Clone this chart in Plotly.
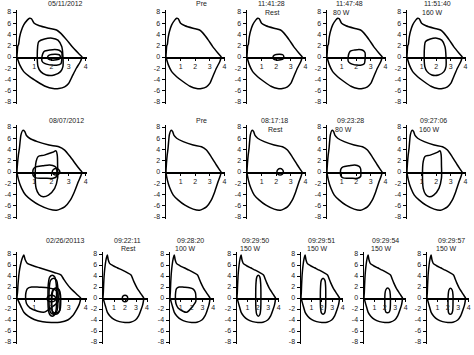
import plotly.graph_objects as go

W, H = 474, 355

# ---------------- data ----------------
y_tick_vals = [8, 6, 4, 2, 0, -2, -4, -6, -8]
y_tick_text = ["8", "6", "4", "2", "0", "-2", "-4", "-6", "-8"]
x_tick_vals = [1, 2, 3, 4]
x_tick_text = ["1", "2", "3", "4"]

# maximal flow-volume envelopes (volume L, flow L/s)
env1_vol = [0, 0.02, 0.05, 0.09, 0.15, 0.23, 0.39, 0.61, 0.73, 0.84, 1.0, 1.3, 1.86, 2.3, 2.55, 2.9, 3.2, 3.57, 3.78,
            3.75, 3.68, 3.45, 3.2, 3.0, 2.77, 2.43, 2.1, 1.64, 1.18, 0.73, 0.39, 0.16, 0.05, 0]
env1_flow = [0, 1.0, 2.0, 2.2, 3.5, 4.5, 5.7, 6.6, 6.9, 6.8, 6.0, 5.55, 5.1, 4.8, 4.2, 3.0, 1.85, 0.65, 0.0,
             -0.3, -0.85, -2.0, -3.5, -4.7, -5.3, -5.6, -5.6, -5.2, -4.4, -3.5, -2.6, -1.4, -0.5, 0]

env2_vol = [0, 0.03, 0.08, 0.14, 0.23, 0.34, 0.45, 0.55, 0.73, 1.18, 1.86, 2.43, 2.77, 3.1, 3.45, 3.68, 3.77,
            3.73, 3.57, 3.34, 3.1, 2.77, 2.3, 1.86, 1.3, 0.84, 0.5, 0.27, 0.09, 0]
env2_flow = [0, 1.5, 3.0, 4.2, 6.6, 7.4, 7.2, 6.5, 6.0, 5.4, 4.8, 4.5, 3.9, 2.7, 1.25, 0.35, 0,
             -0.55, -1.7, -3.5, -5.0, -6.2, -6.8, -6.6, -5.9, -5.0, -4.1, -2.9, -1.4, 0]

env3_vol = [0, 0.03, 0.06, 0.12, 0.2, 0.3, 0.4, 0.47, 0.6, 0.9, 1.3, 1.76, 2.2, 2.55, 2.7, 2.85, 3.1, 3.3, 3.5, 3.7,
            3.67, 3.6, 3.45, 3.25, 2.95, 2.5, 2.0, 1.5, 1.0, 0.65, 0.4, 0.24, 0.12, 0.03, 0]
env3_flow = [0, 1.0, 2.5, 4.5, 6.0, 7.2, 7.8, 7.0, 6.3, 5.9, 5.5, 5.06, 4.6, 4.2, 3.5, 2.8, 1.8, 1.2, 0.6, 0,
             -0.6, -1.3, -2.2, -3.2, -4.0, -4.4, -4.45, -4.3, -3.9, -3.3, -2.6, -1.6, -0.8, -0.2, 0]

# tidal loops, visit 05/11/2012
rest1_vol = [1.85, 2.0, 2.25, 2.45, 2.52, 2.48, 2.3, 2.0, 1.82, 1.78, 1.85]
rest1_flow = [0.3, 0.45, 0.5, 0.4, 0.1, -0.3, -0.5, -0.55, -0.35, 0.0, 0.3]
w80a_vol = [1.5, 1.6, 1.9, 2.2, 2.45, 2.6, 2.62, 2.6, 2.55, 2.3, 1.9, 1.6, 1.45, 1.45, 1.5]
w80a_flow = [0.6, 1.05, 1.25, 1.35, 1.2, 0.8, 0.2, -0.6, -1.2, -1.45, -1.4, -1.15, -0.7, 0.0, 0.6]
w160a_vol = [1.2, 1.27, 1.6, 2.04, 2.38, 2.6, 2.67, 2.67, 2.53, 2.16, 1.7, 1.38, 1.22, 1.2]
w160a_flow = [1.85, 2.75, 3.2, 3.35, 3.0, 1.85, 0.05, -1.7, -2.6, -3.2, -3.2, -2.6, -1.7, 1.85]

# tidal loops, visit 08/07/2012
rest2_vol = [2.27, 2.42, 2.49, 2.42, 2.27, 2.12, 2.05, 2.12, 2.27]
rest2_flow = [0.6, 0.45, 0.05, -0.4, -0.55, -0.4, 0.05, 0.45, 0.6]
w80b_vol = [0.95, 1.1, 1.5, 1.9, 2.2, 2.3, 2.32, 2.3, 2.1, 1.6, 1.1, 0.95, 0.92, 0.95]
w80b_flow = [0.5, 0.9, 1.1, 1.25, 1.0, 0.6, 0.0, -0.8, -1.1, -1.1, -1.05, -0.7, 0.0, 0.5]
w160b_vol = [2.27, 2.07, 1.59, 1.23, 1.11, 1.06, 1.11, 1.28, 1.52, 1.83, 2.19, 2.36, 2.36, 2.34, 2.27]
w160b_flow = [3.76, 3.5, 3.0, 2.75, 1.85, -0.5, -2.9, -4.0, -4.4, -4.1, -2.9, -1.1, 1.25, 3.0, 3.76]

# tidal loops, visit 02/26/2013
rest3_vol = [2.0, 2.18, 2.25, 2.18, 2.0, 1.82, 1.75, 1.82, 2.0]
rest3_flow = [0.5, 0.35, -0.1, -0.55, -0.7, -0.55, -0.1, 0.35, 0.5]
w100c_vol = [0.6, 0.85, 1.3, 1.8, 2.15, 2.35, 2.4, 2.38, 2.1, 1.8, 1.55, 1.2, 0.75, 0.55, 0.5, 0.52, 0.6]
w100c_flow = [1.7, 2.0, 1.95, 1.85, 1.6, 1.0, 0.0, -0.7, -1.5, -2.2, -2.6, -2.4, -1.8, -1.0, 0.0, 1.0, 1.7]
w150c1_vol = [2.05, 2.2, 2.28, 2.3, 2.28, 2.2, 2.05, 1.9, 1.82, 1.8, 1.82, 1.9, 2.05]
w150c1_flow = [4.15, 3.8, 2.5, 0.5, -2.0, -3.0, -3.3, -3.0, -2.0, 0.5, 2.5, 3.8, 4.15]
w150c2_vol = [2.12, 2.3, 2.37, 2.38, 2.36, 2.28, 2.12, 1.96, 1.88, 1.86, 1.88, 1.95, 2.12]
w150c2_flow = [3.6, 3.2, 2.0, 0.3, -1.8, -2.7, -2.95, -2.7, -1.8, 0.3, 2.0, 3.2, 3.6]
w150c3_vol = [2.27, 2.45, 2.53, 2.54, 2.5, 2.4, 2.25, 2.1, 2.02, 2.0, 2.02, 2.1, 2.27]
w150c3_flow = [1.8, 1.5, 0.5, -1.0, -2.2, -2.6, -2.7, -2.55, -2.0, -0.5, 0.8, 1.5, 1.8]
w150c4_vol = [2.25, 2.42, 2.5, 2.5, 2.47, 2.38, 2.22, 2.08, 2.03, 2.02, 2.05, 2.12, 2.25]
w150c4_flow = [1.75, 1.45, 0.5, -1.0, -2.3, -2.8, -2.95, -2.7, -2.0, -0.5, 0.8, 1.5, 1.75]

row1_titles = ["05/11/2012", "Pre", "11:41:28", "11:47:48", "11:51:40"]
row1_subtitles = ["", "", "Rest", "80 W", "160 W"]
row2_titles = ["08/07/2012", "Pre", "08:17:18", "09:23:28", "09:27:06"]
row2_subtitles = ["", "", "Rest", "80 W", "160 W"]
row3_titles = ["02/26/20113", "09:22:11", "09:28:20", "09:29:50", "09:29:51", "09:29:54", "09:29:57"]
row3_subtitles = ["", "Rest", "100 W", "150 W", "150 W", "150 W", "150 W"]

# ---------------- layout geometry (pixels) ----------------
X_MAX = 4.05
Y_LIM = 8.3
rows_geom = {1: (57, 5.625), 2: (172, 5.625), 3: (298, 5.5)}   # y pixel of zero flow, px per unit
title_y = {1: (4, 13), 2: (120, 129), 3: (240, 249)}

loops1 = [(rest1_vol, rest1_flow), (w80a_vol, w80a_flow), (w160a_vol, w160a_flow)]
loops2 = [(rest2_vol, rest2_flow), (w80b_vol, w80b_flow), (w160b_vol, w160b_flow)]
loops3 = [(rest3_vol, rest3_flow), (w100c_vol, w100c_flow), (w150c1_vol, w150c1_flow),
          (w150c2_vol, w150c2_flow), (w150c3_vol, w150c3_flow), (w150c4_vol, w150c4_flow)]

# (row, axis x px, px per unit, envelope, loops, title, subtitle, title x px, subtitle x px)
panels = [
    (1, 17, 17.2, (env1_vol, env1_flow), loops1, row1_titles[0], row1_subtitles[0], 65, 0),
    (1, 166, 14.6, (env1_vol, env1_flow), [], row1_titles[1], row1_subtitles[1], 201, 0),
    (1, 247, 14.6, (env1_vol, env1_flow), [loops1[0]], row1_titles[2], row1_subtitles[2], 271, 272),
    (1, 327, 14.6, (env1_vol, env1_flow), [loops1[1]], row1_titles[3], row1_subtitles[3], 349, 341),
    (1, 407, 14.6, (env1_vol, env1_flow), [loops1[2]], row1_titles[4], row1_subtitles[4], 437, 432),
    (2, 17, 17.2, (env2_vol, env2_flow), loops2, row2_titles[0], row2_subtitles[0], 66, 0),
    (2, 166, 14.6, (env2_vol, env2_flow), [], row2_titles[1], row2_subtitles[1], 201, 0),
    (2, 247, 14.6, (env2_vol, env2_flow), [loops2[0]], row2_titles[2], row2_subtitles[2], 274, 275),
    (2, 327, 14.6, (env2_vol, env2_flow), [loops2[1]], row2_titles[3], row2_subtitles[3], 350, 343),
    (2, 407, 14.6, (env2_vol, env2_flow), [loops2[2]], row2_titles[4], row2_subtitles[4], 433, 429),
    (3, 17, 17.2, (env3_vol, env3_flow), loops3, row3_titles[0], row3_subtitles[0], 65, 0),
    (3, 103, 11.0, (env3_vol, env3_flow), [loops3[0]], row3_titles[1], row3_subtitles[1], 127, 128),
    (3, 170, 10.8, (env3_vol, env3_flow), [loops3[1]], row3_titles[2], row3_subtitles[2], 190, 185),
    (3, 237, 10.4, (env3_vol, env3_flow), [loops3[2]], row3_titles[3], row3_subtitles[3], 256, 250),
    (3, 301, 10.4, (env3_vol, env3_flow), [loops3[3]], row3_titles[4], row3_subtitles[4], 321, 317),
    (3, 364, 10.4, (env3_vol, env3_flow), [loops3[4]], row3_titles[5], row3_subtitles[5], 385, 381),
    (3, 427, 10.4, (env3_vol, env3_flow), [loops3[5]], row3_titles[6], row3_subtitles[6], 451, 446),
]

FONT = "Liberation Sans, Arial, sans-serif"
FS = 7
LINE_W = 1.5
TXT = "#222222"

fig = go.Figure()
layout = dict(
    width=W, height=H, margin=dict(l=0, r=0, t=0, b=0, pad=0), autosize=False,
    paper_bgcolor="white", plot_bgcolor="white", showlegend=False,
    font=dict(family=FONT, size=FS, color=TXT),
)
annotations = []

for i, (row, ax_px, ppu, env, loops, title, sub, tx, sx) in enumerate(panels, start=1):
    y0px, ypu = rows_geom[row]
    top_px = y0px - Y_LIM * ypu
    bot_px = y0px + Y_LIM * ypu
    x0 = ax_px / W
    x1 = (ax_px + X_MAX * ppu) / W
    yd = [1 - bot_px / H, 1 - top_px / H]
    sfx = "" if i == 1 else str(i)
    layout["xaxis" + sfx] = dict(
        domain=[x0, x1], range=[0, X_MAX], anchor="free", position=1 - y0px / H,
        showgrid=False, zeroline=False, showline=True, linecolor="black", linewidth=LINE_W,
        tickvals=x_tick_vals, ticktext=x_tick_text, ticks="outside", ticklen=2, tickcolor="black",
        tickfont=dict(family=FONT, size=FS, color=TXT), fixedrange=True, automargin=False,
    )
    layout["yaxis" + sfx] = dict(
        domain=yd, range=[-Y_LIM, Y_LIM], anchor="x" + sfx,
        showgrid=False, zeroline=False, showline=True, linecolor="black", linewidth=LINE_W,
        tickvals=y_tick_vals, ticktext=y_tick_text, ticks="outside", ticklen=3, tickcolor="black",
        tickfont=dict(family=FONT, size=FS, color=TXT), fixedrange=True, automargin=False,
    )
    curves = [env] + list(loops)
    for j, (vx, vy) in enumerate(curves):
        fig.add_trace(go.Scatter(
            x=vx, y=vy, mode="lines", xaxis="x" + sfx, yaxis="y" + sfx,
            line=dict(color="black", width=LINE_W, shape="spline", smoothing=0.6 if j == 0 else 0.9),
            hoverinfo="skip", showlegend=False,
        ))
    ty1, ty2 = title_y[row]
    annotations.append(dict(text=title, x=tx / W, y=1 - ty1 / H, xref="paper", yref="paper",
                            xanchor="center", yanchor="middle", showarrow=False,
                            font=dict(family=FONT, size=FS, color=TXT)))
    if sub:
        annotations.append(dict(text=sub, x=sx / W, y=1 - ty2 / H, xref="paper", yref="paper",
                                xanchor="center", yanchor="middle", showarrow=False,
                                font=dict(family=FONT, size=FS, color=TXT)))

layout["annotations"] = annotations
fig.update_layout(**layout)
fig.write_html(
    "out.html",
    config={"displayModeBar": False, "staticPlot": True},
    post_script="document.body.style.margin='0';document.body.style.padding='0';document.body.style.overflow='hidden';",
)
